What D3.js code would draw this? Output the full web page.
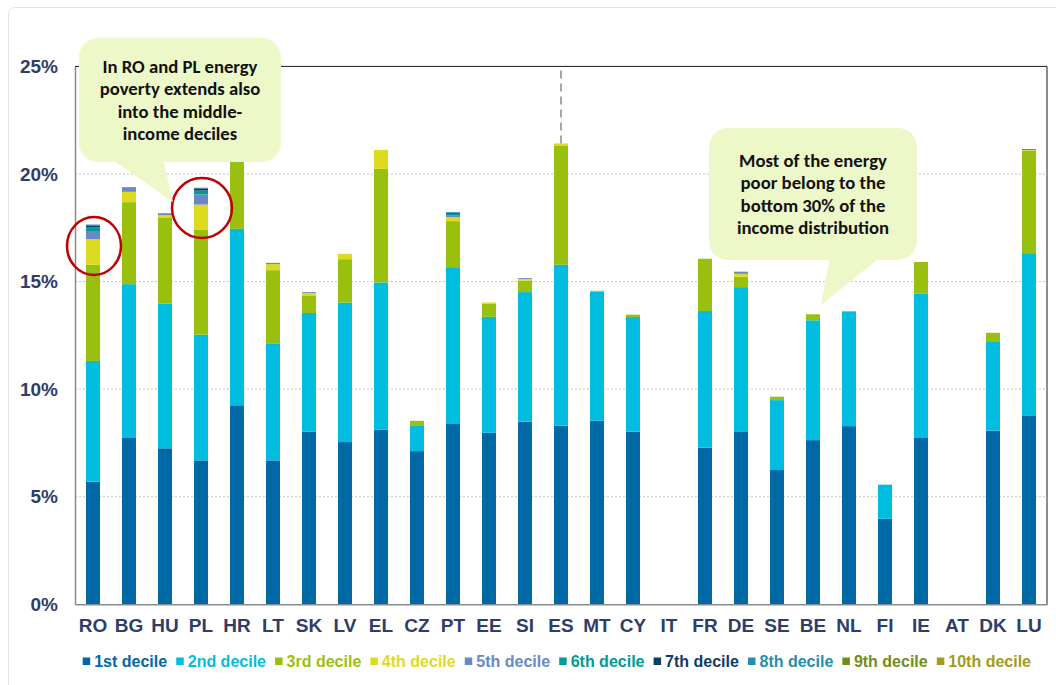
<!DOCTYPE html>
<html>
<head>
<meta charset="utf-8">
<script src="https://cdn.jsdelivr.net/npm/d3@7"></script>
<style>
  html, body { margin: 0; padding: 0; background: #ffffff; }
  svg { display: block; }
</style>
</head>
<body>
<svg id="chart" width="1056" height="685"></svg>
<script>
// ---------------- DATA ----------------
const countries = ["RO","BG","HU","PL","HR","LT","SK","LV","EL","CZ","PT","EE","SI","ES","MT","CY","IT","FR","DE","SE","BE","NL","FI","IE","AT","DK","LU"];
const decileNames = ["1st decile","2nd decile","3rd decile","4th decile","5th decile","6th decile","7th decile","8th decile","9th decile","10th decile"];
// values in % of households, per decile, per country (same order as countries)
const decile1  = [5.70,7.73,7.25,6.69,9.25,6.69,8.02,7.54,8.11,7.12,8.38,7.97,8.49,8.30,8.53,8.02,0,7.28,8.01,6.24,7.63,8.28,3.98,7.73,0,8.07,8.78];
const decile2  = [5.61,7.15,6.72,5.84,8.20,5.44,5.52,6.48,6.85,1.20,7.29,5.39,6.02,7.48,6.00,5.33,0,6.35,6.73,3.25,5.57,5.33,1.58,6.72,0,4.12,7.54];
const decile3  = [4.47,3.81,4.01,4.89,3.15,3.40,0.79,2.02,5.28,0.21,2.14,0.61,0.53,5.52,0.04,0.11,0,2.43,0.48,0.16,0.28,0.02,0,1.46,0,0.43,4.76];
const decile4  = [1.19,0.48,0.11,1.16,0,0.28,0.14,0.25,0.88,0,0.19,0.06,0.08,0.12,0,0,0,0,0.14,0,0,0,0,0,0,0,0.03];
const decile5  = [0.38,0.19,0.05,0.47,0,0.06,0.04,0,0,0,0.09,0,0.04,0,0,0,0,0,0.10,0,0,0,0,0,0,0,0.03];
const decile6  = [0.17,0.03,0.03,0.18,0,0,0,0,0,0,0.06,0,0,0,0,0,0,0,0,0,0,0,0,0,0,0,0];
const decile7  = [0.09,0,0,0.10,0,0,0,0,0,0,0.05,0,0,0,0,0,0,0,0,0,0,0,0,0,0,0,0.02];
const decile8  = [0.04,0,0,0.03,0,0,0,0,0,0,0.03,0,0,0,0,0,0,0,0,0,0,0,0,0,0,0,0];
const decile9  = [0,0,0,0,0,0,0,0,0,0,0,0,0,0,0,0,0,0,0,0,0,0,0,0,0,0,0];
const decile10 = [0,0,0,0,0,0,0,0,0,0,0,0,0,0,0,0,0,0,0,0,0,0,0,0,0,0,0];
const yTicks = [0,5,10,15,20,25];
const callout1Lines = ["In RO and PL energy","poverty extends also","into the middle-","income deciles"];
const callout2Lines = ["Most of the energy","poor belong to the","bottom 30% of the","income distribution"];
const markedBar = "ES";

// ---------------- STYLE ----------------
const colors = ["#0068a5","#00bde0","#99bf0f","#dddb1f","#6b88c6","#009a98","#0f3d63","#1f90ab","#708d1b","#a09c22"];
const axisColor = "#2f3d68";

const series = [decile1,decile2,decile3,decile4,decile5,decile6,decile7,decile8,decile9,decile10];
const rows = countries.map((c,i) => {
  const r = {country:c};
  decileNames.forEach((k,j) => r[k] = series[j][i]);
  return r;
});

const svg = d3.select("#chart");
const pLeft = 75, pRight = 1047, pTop = 66.4, pBottom = 604.3;

// faint outer frame
svg.append("rect").attr("x",8.5).attr("y",7.5).attr("width",1060).attr("height",700)
  .attr("rx",6).attr("fill","none").attr("stroke","#e4e4e4").attr("stroke-width",1);

const x = d3.scaleBand().domain(countries).range([pLeft,pRight]).paddingInner(0.611).paddingOuter(0.3055);
const y = d3.scaleLinear().domain([0,25]).range([pBottom,pTop]);

// gridlines
svg.append("g").selectAll("line").data(yTicks.filter(t => t>0 && t<25)).join("line")
  .attr("x1",pLeft).attr("x2",pRight).attr("y1",d=>y(d)).attr("y2",d=>y(d))
  .attr("stroke","#c4c4c4").attr("stroke-width",1).attr("stroke-dasharray","2,2");

// bars
const stack = d3.stack().keys(decileNames)(rows);
svg.append("g").selectAll("g").data(stack).join("g")
  .attr("fill",(d,i)=>colors[i])
  .selectAll("rect").data(d=>d).join("rect")
  .attr("x",d=>x(d.data.country))
  .attr("width",x.bandwidth())
  .attr("y",d=>y(d[1]))
  .attr("height",d=>Math.max(0,y(d[0])-y(d[1])));

// frame
svg.append("line").attr("x1",pLeft).attr("x2",pRight).attr("y1",pTop).attr("y2",pTop).attr("stroke","#1a1a1a").attr("stroke-width",1);
svg.append("line").attr("x1",pRight).attr("x2",pRight).attr("y1",pTop).attr("y2",pBottom).attr("stroke","#1a1a1a").attr("stroke-width",1);

// axes
const yAxis = svg.append("g").attr("transform",`translate(${pLeft},0)`)
  .call(d3.axisLeft(y).tickValues(yTicks).tickFormat(d=>d+"%").tickSize(0).tickPadding(17));
yAxis.select(".domain").attr("stroke","#8a8a8a").attr("stroke-width",1.5);
yAxis.selectAll("text").attr("font-family","'Liberation Sans', Arial, sans-serif")
  .attr("font-size",19).attr("font-weight","bold").attr("fill",axisColor);

const xAxis = svg.append("g").attr("transform",`translate(0,${pBottom})`)
  .call(d3.axisBottom(x).tickSize(0).tickPadding(14));
xAxis.select(".domain").attr("stroke","#8a8a8a").attr("stroke-width",1.5);
xAxis.selectAll("text").attr("font-family","'Liberation Sans', Arial, sans-serif")
  .attr("font-size",19).attr("font-weight","bold").attr("fill",axisColor);

// dashed marker above ES
const esTotal = d3.sum(series, s => s[countries.indexOf(markedBar)]);
svg.append("line")
  .attr("x1",x(markedBar)+x.bandwidth()/2).attr("x2",x(markedBar)+x.bandwidth()/2)
  .attr("y1",pTop+4).attr("y2",y(esTotal))
  .attr("stroke","#a6a6a6").attr("stroke-width",2).attr("stroke-dasharray","8,5");

// red circles
const circ = [{c:"RO",cy:246,rx:27,ry:29},{c:"PL",cy:208,rx:30,ry:30}];
svg.append("g").selectAll("ellipse").data(circ).join("ellipse")
  .attr("cx",d=>x(d.c)+x.bandwidth()/2+1).attr("cy",d=>d.cy)
  .attr("rx",d=>d.rx).attr("ry",d=>d.ry)
  .attr("fill","none").attr("stroke","#c00000").attr("stroke-width",2.5);

// legend
const legend = svg.append("g");
const legY = 661.5;
const items = legend.selectAll("g").data(decileNames).join("g");
items.append("rect").attr("width",7.5).attr("height",7.5).attr("y",legY-4).attr("fill",(d,i)=>colors[i]);
items.append("text").text(d=>d).attr("x",11.5).attr("y",legY+5.5)
  .attr("font-family","'Liberation Sans', Arial, sans-serif").attr("font-size",16).attr("font-weight","bold")
  .attr("fill",(d,i)=>colors[i]);
{
  const widths = [];
  items.each(function(){ widths.push(d3.select(this).select("text").node().getComputedTextLength() + 11.5); });
  const start = 82.7, end = 1031;
  const gap = (end - start - d3.sum(widths)) / (widths.length - 1);
  let cx = start;
  items.each(function(d,i){ d3.select(this).attr("transform",`translate(${cx},0)`); cx += widths[i] + gap; });
}

// callouts
function callout(box, tail, lines, targetWidth, lineGap) {
  const g = svg.append("g");
  const fill = "#edf8c8";
  g.append("rect").attr("x",box.x).attr("y",box.y).attr("width",box.w).attr("height",box.h)
    .attr("rx",19).attr("fill",fill);
  g.append("path").attr("d",d3.line()(tail)).attr("fill",fill);
  const cx = box.x + box.w/2;
  const t = g.selectAll("text").data(lines).join("text")
    .attr("x",cx).attr("text-anchor","middle")
    .attr("font-family","Carlito, Lato, 'Open Sans', sans-serif").attr("font-weight","bold")
    .attr("font-size",16).attr("fill","#111").text(d=>d);
  const w = t.nodes()[0].getComputedTextLength();
  const fs = 16 * targetWidth / w;
  t.attr("font-size",fs);
  const totalH = lineGap*(lines.length-1);
  const cyMid = box.y + box.h/2;
  t.attr("y",(d,i)=> cyMid - totalH/2 + i*lineGap + fs*0.35);
}
callout({x:79,y:38,w:202,h:124}, [[110,158],[163,158],[173,202]], callout1Lines, 155, 22.6);
callout({x:709,y:128,w:208,h:132}, [[830,256],[882,256],[821,305]], callout2Lines, 148, 22.4);
</script>
</body>
</html>
